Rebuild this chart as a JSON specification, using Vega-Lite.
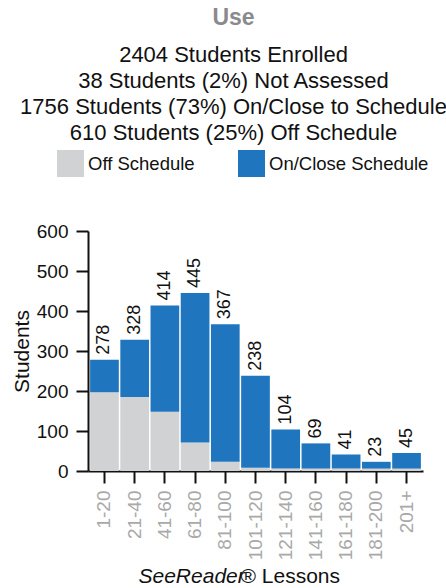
{
  "$schema": "https://vega.github.io/schema/vega-lite/v6.json",
  "width": 335,
  "height": 240,
  "autosize": "none",
  "padding": {"left": 88, "top": 231, "right": 23, "bottom": 117},
  "background": "white",
  "title": {
    "text": "Use",
    "subtitle": ["2404 Students Enrolled", "38 Students (2%) Not Assessed", "1756 Students (73%) On/Close to Schedule", "610 Students (25%) Off Schedule"],
    "anchor": "middle",
    "frame": "group",
    "dx": -22,
    "font": "Liberation Sans",
    "fontSize": 23,
    "fontWeight": "bold",
    "color": "#8a8a8e",
    "subtitleFont": "Liberation Sans",
    "subtitleFontSize": 22,
    "subtitleColor": "#111111",
    "subtitleLineHeight": 26,
    "subtitlePadding": 15,
    "offset": 6
  },
  "datasets": {
    "segments": [
      {"bin": "1-20", "status": "Off Schedule", "students": 197},
      {"bin": "1-20", "status": "On/Close Schedule", "students": 81},
      {"bin": "21-40", "status": "Off Schedule", "students": 185},
      {"bin": "21-40", "status": "On/Close Schedule", "students": 143},
      {"bin": "41-60", "status": "Off Schedule", "students": 148},
      {"bin": "41-60", "status": "On/Close Schedule", "students": 266},
      {"bin": "61-80", "status": "Off Schedule", "students": 71},
      {"bin": "61-80", "status": "On/Close Schedule", "students": 374},
      {"bin": "81-100", "status": "Off Schedule", "students": 23},
      {"bin": "81-100", "status": "On/Close Schedule", "students": 344},
      {"bin": "101-120", "status": "Off Schedule", "students": 8},
      {"bin": "101-120", "status": "On/Close Schedule", "students": 230},
      {"bin": "121-140", "status": "Off Schedule", "students": 6},
      {"bin": "121-140", "status": "On/Close Schedule", "students": 98},
      {"bin": "141-160", "status": "Off Schedule", "students": 6},
      {"bin": "141-160", "status": "On/Close Schedule", "students": 63},
      {"bin": "161-180", "status": "Off Schedule", "students": 6},
      {"bin": "161-180", "status": "On/Close Schedule", "students": 35},
      {"bin": "181-200", "status": "Off Schedule", "students": 6},
      {"bin": "181-200", "status": "On/Close Schedule", "students": 17},
      {"bin": "201+", "status": "Off Schedule", "students": 6},
      {"bin": "201+", "status": "On/Close Schedule", "students": 39}
    ],
    "totals": [
      {"bin": "1-20", "total": 278},
      {"bin": "21-40", "total": 328},
      {"bin": "41-60", "total": 414},
      {"bin": "61-80", "total": 445},
      {"bin": "81-100", "total": 367},
      {"bin": "101-120", "total": 238},
      {"bin": "121-140", "total": 104},
      {"bin": "141-160", "total": 69},
      {"bin": "161-180", "total": 41},
      {"bin": "181-200", "total": 23},
      {"bin": "201+", "total": 45}
    ]
  },
  "layer": [
    {
      "data": {"name": "segments"},
      "mark": {"type": "bar"},
      "encoding": {
        "x": {
          "field": "bin", "type": "nominal",
          "sort": ["1-20", "21-40", "41-60", "61-80", "81-100", "101-120", "121-140", "141-160", "161-180", "181-200", "201+"],
          "scale": {"domain": ["1-20", "21-40", "41-60", "61-80", "81-100", "101-120", "121-140", "141-160", "161-180", "181-200", "201+"], "paddingInner": 0.05, "paddingOuter": 0.07},
          "axis": {
            "orient": "bottom",
            "title": "SeeReader",
            "titleFontStyle": "italic",
            "titleFontWeight": "normal",
            "titleFont": "Liberation Sans",
            "titleFontSize": 21,
            "titleColor": "#111111",
            "titleX": 50,
            "titleY": 111,
            "titleAlign": "left",
            "titleBaseline": "alphabetic",
            "labelAngle": -90,
            "labelAlign": "right",
            "labelBaseline": "middle",
            "labelFont": "Liberation Sans",
            "labelFontSize": 19,
            "labelColor": "#a9a9a9",
            "labelPadding": 7,
            "labelOverlap": false,
            "tickSize": 12,
            "tickWidth": 2,
            "tickColor": "#111111",
            "domainColor": "#111111",
            "domainWidth": 2
          }
        },
        "y": {
          "field": "students", "type": "quantitative", "stack": "zero",
          "scale": {"domain": [0, 600], "nice": false},
          "axis": {
            "title": "Students",
            "titleFont": "Liberation Sans",
            "titleFontSize": 21,
            "titleFontWeight": "normal",
            "titleColor": "#111111",
            "titlePadding": 4,
            "values": [0, 100, 200, 300, 400, 500, 600],
            "tickCount": 7,
            "labelOverlap": false,
            "labelFont": "Liberation Sans",
            "labelFontSize": 19,
            "labelColor": "#111111",
            "labelPadding": 8,
            "tickSize": 12,
            "tickWidth": 2,
            "tickColor": "#111111",
            "domainColor": "#111111",
            "domainWidth": 2,
            "grid": false
          }
        },
        "color": {
          "field": "status", "type": "nominal",
          "scale": {"domain": ["Off Schedule", "On/Close Schedule"], "range": ["#d1d2d4", "#1f76bf"]},
          "legend": {
            "orient": "none",
            "legendX": -31,
            "legendY": -81,
            "direction": "horizontal",
            "columns": 2,
            "title": null,
            "padding": 0,
            "symbolType": "square",
            "symbolSize": 729,
            "symbolStrokeWidth": 0,
            "symbolOpacity": 1,
            "labelFont": "Liberation Sans",
            "labelFontSize": 18.5,
            "labelColor": "#111111",
            "labelOffset": 4,
            "columnPadding": 43,
            "labelLimit": 300
          }
        },
        "order": {"field": "status", "sort": "ascending"}
      }
    },
    {
      "data": {"name": "totals"},
      "mark": {"type": "text", "angle": 270, "align": "left", "baseline": "middle", "dx": 5, "font": "Liberation Sans", "fontSize": 18, "color": "#111111"},
      "encoding": {
        "x": {
          "field": "bin", "type": "nominal",
          "sort": ["1-20", "21-40", "41-60", "61-80", "81-100", "101-120", "121-140", "141-160", "161-180", "181-200", "201+"],
          "axis": {
            "orient": "bottom",
            "title": "® Lessons",
            "titleFontStyle": "normal",
            "titleFontWeight": "normal",
            "titleFont": "Liberation Sans",
            "titleFontSize": 21,
            "titleColor": "#111111",
            "titleX": 152,
            "titleY": 111,
            "titleAlign": "left",
            "titleBaseline": "alphabetic",
            "labels": false,
            "ticks": false,
            "domain": false
          }
        },
        "y": {
          "field": "total", "type": "quantitative",
          "axis": {
            "title": "Students",
            "titleFont": "Liberation Sans",
            "titleFontSize": 21,
            "titleFontWeight": "normal",
            "titleColor": "#111111",
            "titlePadding": 4,
            "values": [0, 100, 200, 300, 400, 500, 600],
            "tickCount": 7,
            "labelOverlap": false,
            "labelFont": "Liberation Sans",
            "labelFontSize": 19,
            "labelColor": "#111111",
            "labelPadding": 8,
            "tickSize": 12,
            "tickWidth": 2,
            "tickColor": "#111111",
            "domainColor": "#111111",
            "domainWidth": 2,
            "grid": false
          }
        },
        "text": {"field": "total", "type": "quantitative"}
      }
    }
  ],
  "resolve": {"axis": {"x": "independent"}},
  "config": {
    "view": {"stroke": null},
    "font": "Liberation Sans"
  }
}
